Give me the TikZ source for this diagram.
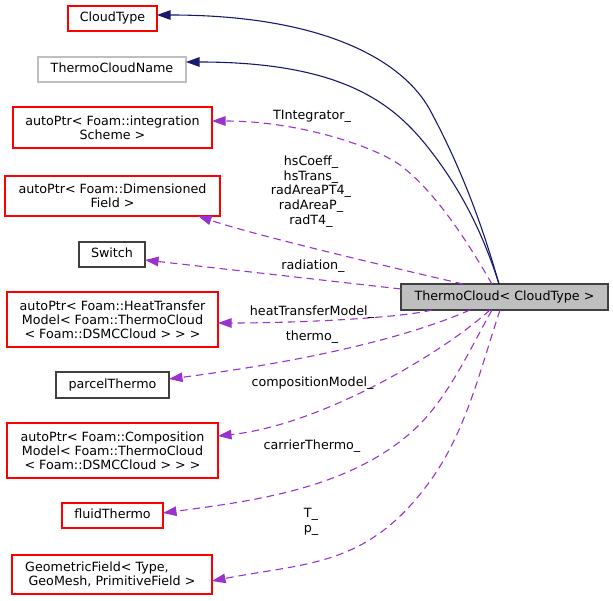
\documentclass[tikz,border=0pt]{standalone}
\usepackage{fontspec}
\setmainfont{DejaVu Sans}
\usetikzlibrary{arrows.meta}
\definecolor{edgenavy}{HTML}{191970}
\definecolor{edgepurple}{HTML}{9A32CD}
\definecolor{boxgray}{HTML}{BFBFBF}
\definecolor{borderdark}{HTML}{404040}
\definecolor{boxred}{HTML}{FF0000}
\begin{document}
\begin{tikzpicture}[x=1pt,y=-1pt,
  every node/.style={font=\fontsize{12.7}{14.8}\selectfont, inner sep=0pt, outer sep=0pt},
  cls/.style={align=center, font=\fontsize{12.7}{14.2}\selectfont},
  one/.style={text height=9.3pt, text depth=2.8pt},
  frame/.style={line width=1.4pt},
  inh/.style={draw=edgenavy, line width=1.1pt, -{Triangle[length=13.5pt,width=9.5pt]}},
  use/.style={draw=edgepurple, line width=1.1pt, dash pattern=on 7.5pt off 5pt, -{Triangle[length=13.5pt,width=9.5pt]}},
  lbl/.style={anchor=base, align=center}]
\useasboundingbox (0,0) rectangle (613,601);
% classes
\node[cls, one, minimum width=89pt, minimum height=25pt] (ct) at (112.5,18.5) {CloudType};
\node[cls, one, minimum width=148pt, minimum height=25pt] (tcn) at (112,69.5) {ThermoCloudName};
\node[cls, minimum width=199pt, minimum height=41pt] (integ) at (112.5,127.5) {autoPtr< Foam::integration\\Scheme >};
\node[cls, minimum width=215pt, minimum height=40pt] (dim) at (112.5,196) {autoPtr< Foam::Dimensioned\\Field >};
\node[cls, one, minimum width=66pt, minimum height=25pt] (sw) at (112,254.5) {Switch};
\node[cls, minimum width=211pt, minimum height=55pt] (ht) at (112.5,319.5) {autoPtr< Foam::HeatTransfer\\Model< Foam::ThermoCloud\\< Foam::DSMCCloud > > >};
\node[cls, one, minimum width=113pt, minimum height=26pt] (pt) at (112.5,385) {parcelThermo};
\node[cls, minimum width=211pt, minimum height=55pt] (comp) at (112.5,450.5) {autoPtr< Foam::Composition\\Model< Foam::ThermoCloud\\< Foam::DSMCCloud > > >};
\node[cls, one, minimum width=101pt, minimum height=25pt] (ft) at (112.5,515.5) {fluidThermo};
\node[cls, minimum width=200pt, minimum height=39pt] (geo) at (112,574.5) {GeometricField< Type,\hspace*{30pt}\\GeoMesh, PrimitiveField >};
\node[cls, one, fill=boxgray, minimum width=207pt, minimum height=26pt] (tc) at (504.5,297) {ThermoCloud< CloudType >};
% frames
\foreach \n in {ct,integ,dim,ht,comp,ft,geo}
  \draw[frame, draw=boxred] (\n.south west) rectangle (\n.north east);
\draw[frame, line width=1.2pt, draw=boxgray] (tcn.south west) rectangle (tcn.north east);
\foreach \n in {sw,pt,tc}
  \draw[frame, line width=1.2pt, draw=borderdark] (\n.south west) rectangle (\n.north east);
% inheritance
\draw[inh] ([xshift=-5.5pt]tc.north) .. controls (485,235) and (465,175) .. (430,110) .. controls (405,64) and (330,15) .. ([yshift=3.5pt]ct.east);
\draw[inh] ([xshift=-5.5pt]tc.north) .. controls (485,240) and (465,195) .. (430,150) .. controls (395,105) and (345,62) .. ([yshift=7.5pt]tcn.east);
% usage
\draw[use] ([xshift=-12.5pt]tc.north) .. controls (475,255) and (440,195) .. (400,165) .. controls (375,147) and (300,121) .. ([yshift=6.5pt]integ.east);
\draw[use] ([xshift=-41.5pt]tc.north) .. controls (420,274) and (260,237) .. ([xshift=85.5pt]dim.south);
\draw[use] ([yshift=8pt]tc.west) -- ([yshift=-5.5pt]sw.east);
\draw[use] ([xshift=-72.5pt]tc.south) .. controls (400,318) and (300,323) .. ([yshift=-3.5pt]ht.east);
\draw[use] ([xshift=-34.5pt]tc.south) .. controls (390,345) and (269,366) .. ([yshift=6pt]pt.east);
\draw[use] ([xshift=-14.5pt]tc.south) .. controls (440,355) and (320,425) .. ([yshift=14.5pt]comp.east);
\draw[use] ([xshift=-12.5pt]tc.south) .. controls (470,349) and (449,396) .. (417,427) .. controls (352,489) and (252,501) .. ([yshift=2.5pt]ft.east);
\draw[use] ([xshift=-4.5pt]tc.south) .. controls (481,367) and (467,428) .. (433,477) .. controls (370,567) and (310,562) .. ([yshift=-6.5pt]geo.east);
% labels
\node[lbl] (lTI) at (312,119.6) {TIntegrator\_};
\node[align=center] (lHS) at (311,191.5) {hsCoeff\_\\hsTrans\_\\radAreaPT4\_\\radAreaP\_\\radT4\_};
\node[lbl] (lRA) at (313,269.6) {radiation\_};
\node[lbl] (lHT) at (312,315.2) {heatTransferModel\_};
\node[lbl] (lTH) at (312,340.2) {thermo\_};
\node[lbl] (lCM) at (312.5,386.2) {compositionModel\_};
\node[lbl] (lCT) at (312,449.5) {carrierThermo\_};
\node[align=center] (lTP) at (311,521.9) {T\_\\p\_};
\end{tikzpicture}
\end{document}
